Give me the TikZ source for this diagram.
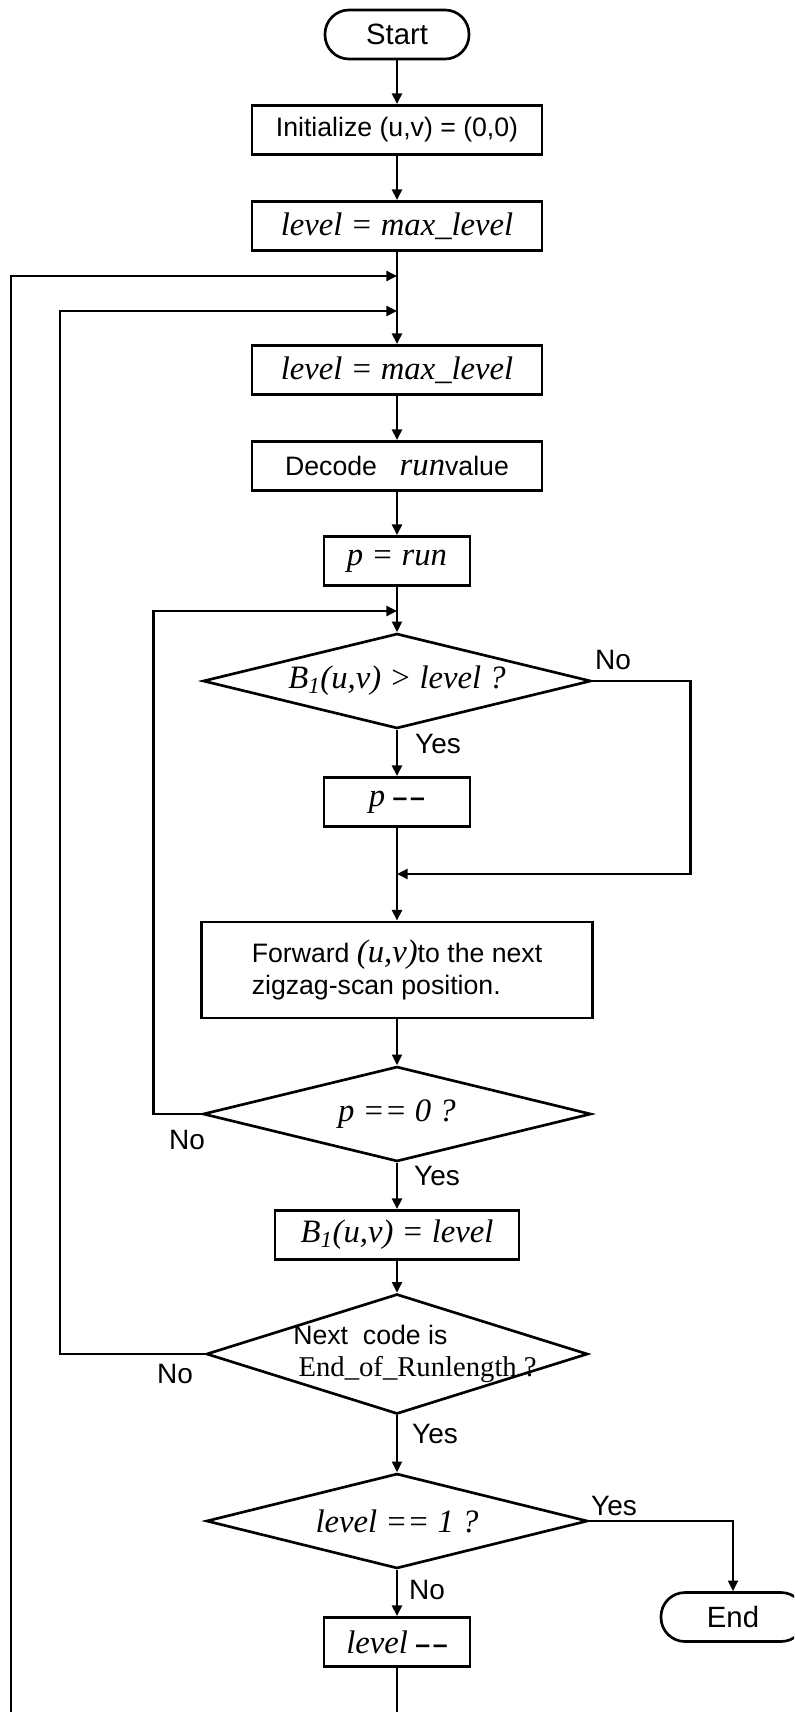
\documentclass[tikz,border=0pt]{standalone}
\usepackage{fontspec}
\setmainfont{Liberation Sans}
\newfontfamily\tms{Liberation Serif}
\usetikzlibrary{shapes.geometric,arrows.meta}
\newcommand{\itv}[1]{{\tms\itshape\fontsize{24.5}{28}\selectfont #1}}

\begin{document}
\begin{tikzpicture}[
    x=0.75pt, y=-0.75pt,
    font=\fontsize{20}{24}\selectfont,
    term/.style={rectangle, draw, line width=2pt, rounded corners=18pt, minimum width=108pt, minimum height=36.75pt, font=\fontsize{22}{26}\selectfont},
    proc/.style={rectangle, draw, line width=2.2pt, minimum width=217.5pt, minimum height=36.75pt, inner sep=0pt},
    shortbox/.style={proc, minimum width=109.5pt},
    decision/.style={diamond, aspect=4.1, draw, line width=2pt, minimum width=291pt, minimum height=71.25pt, inner sep=0pt},
    lbl/.style={font=\fontsize{21}{25}\selectfont, inner sep=0pt},
    arrow/.style={-{Triangle[length=8pt,width=7.5pt]}, line width=1.8pt}
]
    \useasboundingbox (0,0) rectangle (794,1712);
    \clip (0,0) rectangle (794,1712);

    % Start and setup
    \node[term] (start) at (397,34.5) {Start};
    \node[proc] (init) at (397,130) {Initialize (u,v) = (0,0)};
    \node[proc] (lvl1) at (397,226) {\itv{level = max\_level}};
    \node[proc] (lvl2) at (397,370) {\itv{level = max\_level}};
    \node[proc] (dec) at (397,466) {Decode\hspace{17pt}\itv{run}value};
    \node[shortbox] (prun) at (397,561) {\itv{p = run}};

    % Inner loop
    \node[decision] (d1) at (397,681) {\itv{B\textsubscript{1}(u,v) > level ?}};
    \node[shortbox] (pdec) at (397,802) {\itv{p} {\bfseries --\kern2pt--}};
    \node[proc, minimum width=293pt, minimum height=72pt, align=left] (fwd) at (397,970) {Forward \itv{(u,v)}to the next\\zigzag-scan position.};
    \node[decision] (d2) at (397,1114) {\itv{p == 0 ?}};
    \node[proc, minimum width=183pt] (b1) at (397,1235) {\itv{B\textsubscript{1}(u,v) = level}};

    % End of run / level
    \node[decision, minimum width=286pt, minimum height=90pt] (d3) at (397,1354) {};
    \node[align=left, inner sep=0pt] (d3txt) at (415,1354) {Next\ \ code is\\\hspace{4pt}{\tms\fontsize{21.5}{24}\selectfont End\_of\_Runlength ?}};
    \node[decision, minimum width=286pt] (d4) at (397,1521) {\itv{level == 1 ?}};
    \node[shortbox] (lvldec) at (397,1642) {\itv{level} {\bfseries --\kern2pt--}};
    \node[term] (finish) at (733,1617) {End};

    % Joins on the main line
    \coordinate (j1) at (397,276);
    \coordinate (j2) at (397,311);
    \coordinate (j3) at (397,611);
    \coordinate (j4) at (397,874);
    \coordinate (bot1) at (397,1760);
    \coordinate (bot2) at (11,1760);

    % Main flow
    \draw[arrow] (start) -- (init);
    \draw[arrow] (init) -- (lvl1);
    \draw[arrow] (lvl1) -- (lvl2);
    \draw[arrow] (lvl2) -- (dec);
    \draw[arrow] (dec) -- (prun);
    \draw[arrow] (prun) -- (d1);
    \draw[arrow] (d1) -- (pdec);
    \draw[arrow] (pdec) -- (fwd);
    \draw[arrow] (fwd) -- (d2);
    \draw[arrow] (d2) -- (b1);
    \draw[arrow] (b1) -- (d3);
    \draw[arrow] (d3) -- (d4);
    \draw[arrow] (d4) -- (lvldec);
    \draw[arrow] (d4.east) -| (finish.north);

    % Loops back
    \draw[arrow] (d1.east) -- ++(98,0) |- (j4);
    \draw[arrow] (d2.west) -- ++(-48,0) |- (j3);
    \draw[arrow] (d3.west) -- ++(-145,0) |- (j2);
    \draw[arrow] (lvldec) -- (bot1) -- (bot2) |- (j1);

    % Branch labels
    \node[lbl] (no1) at (613,660) {No};
    \node[lbl] (yes1) at (438,744) {Yes};
    \node[lbl] (no2) at (187,1140) {No};
    \node[lbl] (yes2) at (437,1176) {Yes};
    \node[lbl] (no3) at (175,1374) {No};
    \node[lbl] (yes3) at (435,1434) {Yes};
    \node[lbl] (yes4) at (614,1506) {Yes};
    \node[lbl] (no4) at (427,1590) {No};
\end{tikzpicture}
\end{document}
